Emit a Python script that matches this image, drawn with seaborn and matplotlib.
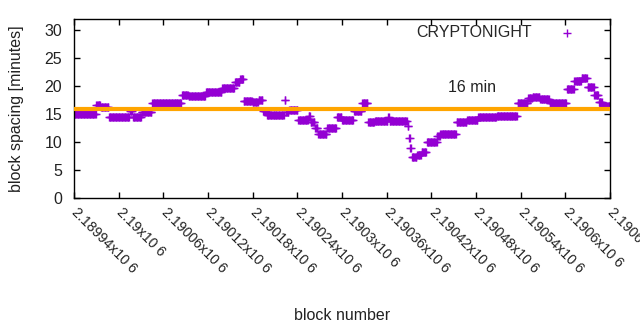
import numpy as np
import pandas as pd
import matplotlib
matplotlib.use("Agg")
import matplotlib.pyplot as plt
import seaborn as sns

# ---- data ----
first_block = 2189941
run_values = [15.0, 16.7, 16.2, 14.5, 15.6, 14.5, 15.3, 17.0, 18.5, 18.2,
              19.0, 19.7, 20.8, 21.3, 17.4, 17.1, 17.6, 15.5, 14.9, 17.6,
              15.3, 15.8, 13.9, 14.6, 13.5, 12.6, 11.5, 12.6, 14.5, 14.0,
              15.6, 17.0, 13.5, 13.8, 14.5, 13.7, 13.8, 12.8, 10.8, 9.0,
              7.4, 7.7, 8.2, 10.0, 11.1, 11.5, 13.5, 14.0, 14.5, 14.7,
              17.0, 17.9, 18.1, 17.7, 17.0, 19.4, 21.0, 21.5, 19.8, 18.5,
              17.1, 16.4]
run_lengths = [29, 6, 11, 28, 4, 12, 14, 40, 9, 23,
               22, 17, 7, 5, 12, 8, 6, 5, 24, 2,
               4, 12, 14, 3, 6, 4, 12, 13, 7, 16,
               11, 8, 9, 18, 2, 7, 17, 2, 2, 2,
               7, 6, 7, 14, 4, 22, 14, 15, 25, 28,
               14, 6, 10, 13, 23, 10, 10, 8, 9, 6,
               5, 11]
target_minutes = 16
x_ticks = [2189940 + 60 * i for i in range(13)]
x_tick_labels = ["2.18994x10 6", "2.19x10 6", "2.19006x10 6", "2.19012x10 6",
                 "2.19018x10 6", "2.19024x10 6", "2.1903x10 6", "2.19036x10 6",
                 "2.19042x10 6", "2.19048x10 6", "2.19054x10 6", "2.1906x10 6",
                 "2.19066x10 6"]
y_ticks = [0, 5, 10, 15, 20, 25, 30]

values = np.repeat(run_values, run_lengths)
blocks = first_block + np.arange(len(values))
df = pd.DataFrame({"block": blocks, "spacing": values})

sns.set_theme(style="white")
plt.rcParams["font.family"] = ["Liberation Sans", "DejaVu Sans"]

FS = 11.5
fig = plt.figure(figsize=(6.4, 3.3), dpi=100)
ax = fig.add_axes([74 / 640, 1 - 198 / 330, (610 - 74) / 640, (198 - 19) / 330])

sns.scatterplot(data=df, x="block", y="spacing", marker="+", s=30,
                color="#9400D3", linewidth=1.0, ax=ax, label="CRYPTONIGHT",
                zorder=2)
ax.axhline(target_minutes, color="#FFA500", linewidth=3.0, zorder=3,
           solid_capstyle="butt")
ax.text(2190442, 19.8, "16 min", fontsize=FS, ha="left", va="center",
        color="#222222")

ax.set_xlim(x_ticks[0], x_ticks[-1])
ax.set_ylim(0, 32)
ax.set_xticks(x_ticks)
ax.set_xticklabels(x_tick_labels, rotation=-45, ha="left", va="center",
                   rotation_mode="anchor", fontsize=10.2)
ax.set_yticks(y_ticks)
ax.set_yticklabels([str(v) for v in y_ticks], fontsize=FS)
ax.tick_params(direction="in", length=4, width=1, top=True, right=True,
               bottom=True, left=True, color="black", labelcolor="#222222")
ax.tick_params(axis="x", pad=9)
ax.tick_params(axis="y", pad=8.5)
for sp in ax.spines.values():
    sp.set_color("black")
    sp.set_linewidth(1.0)

ax.set_xlabel("block number", fontsize=FS, color="#222222")
ax.set_ylabel("block spacing [minutes]", fontsize=FS, color="#222222")
ax.xaxis.set_label_coords(0.5, -(316 - 198) / 179)
ax.xaxis.label.set_va("center")
ax.yaxis.set_label_coords(-(74 - 17) / 536, 0.5)
ax.yaxis.label.set_va("center")

leg = ax.legend(loc="upper right", frameon=False, markerfirst=False,
                fontsize=FS, handlelength=4.0, handletextpad=0.2,
                borderaxespad=0.3, bbox_to_anchor=(1.0, 1.0 + 5 / 179))

fig.savefig("out.png", dpi=100)
